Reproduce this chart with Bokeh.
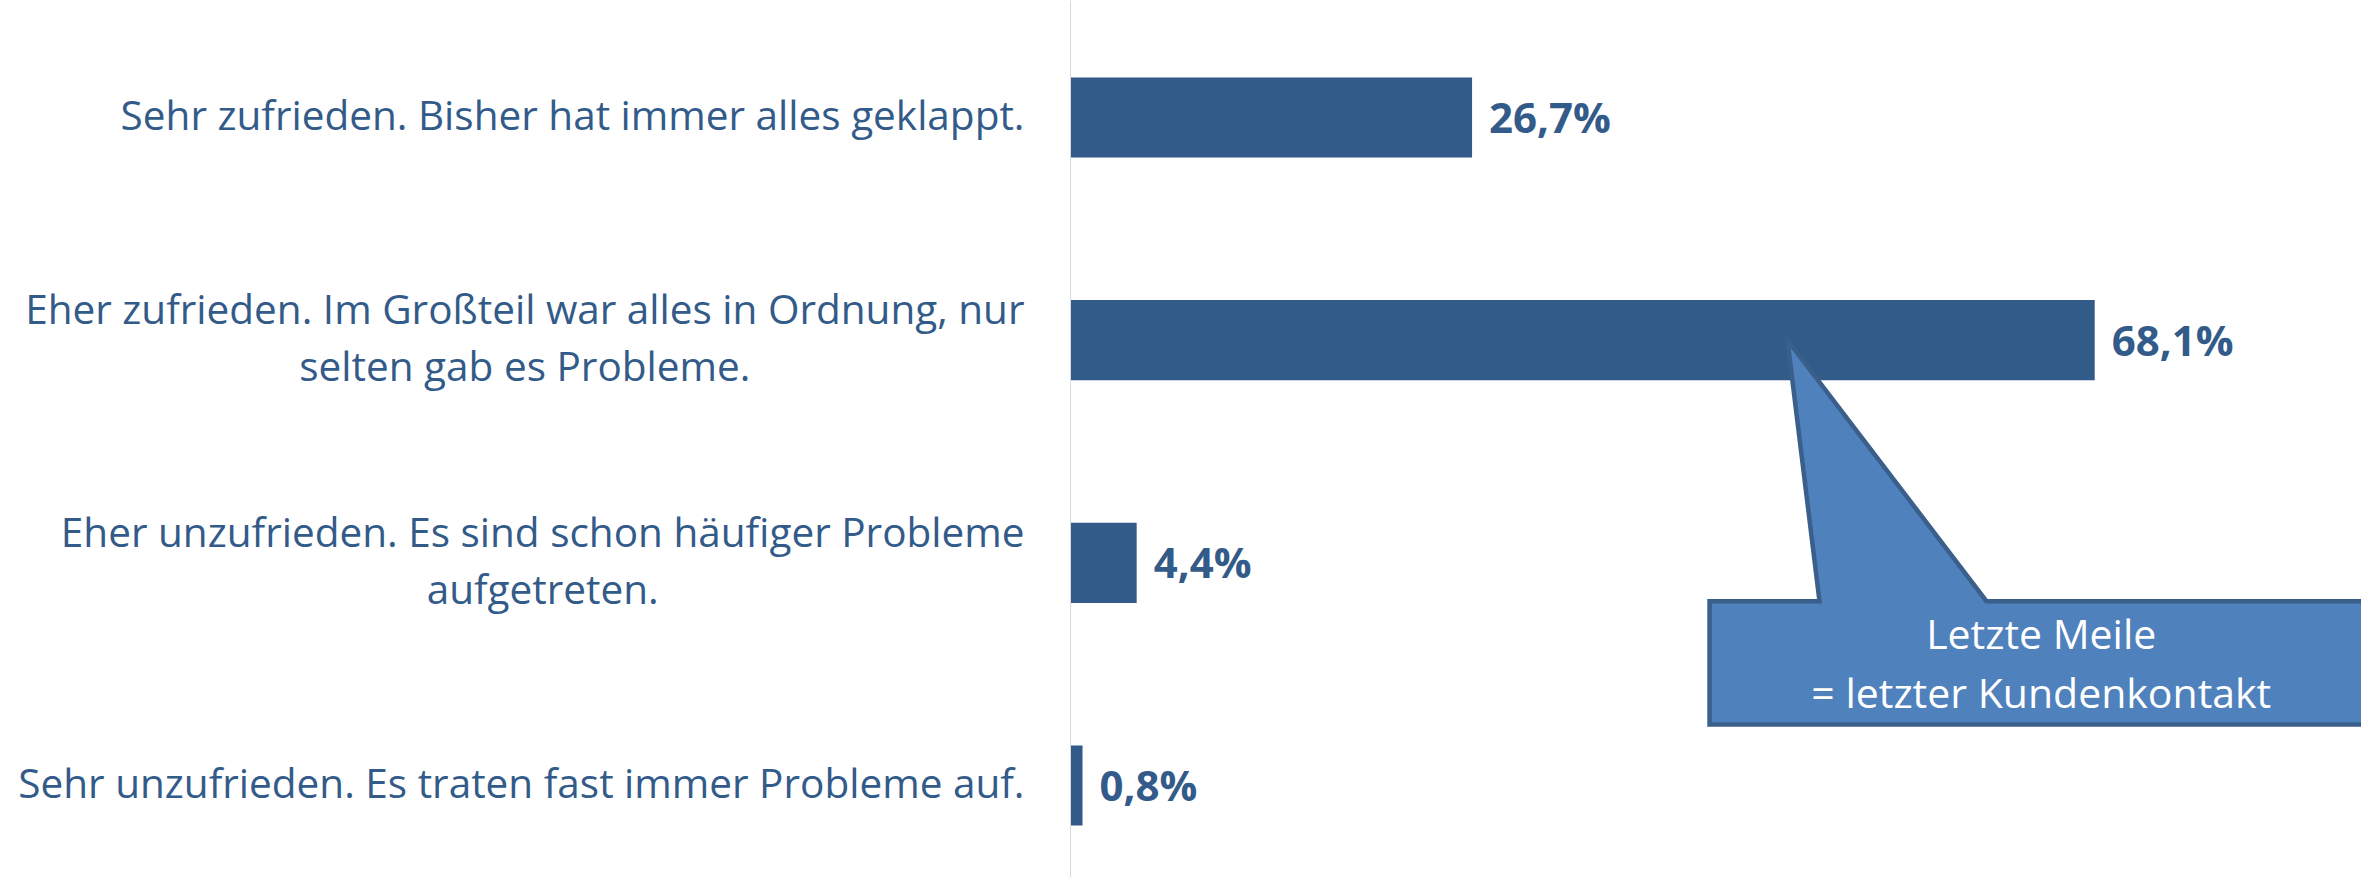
from bokeh.plotting import figure
from bokeh.models import Range1d, Span, ColumnDataSource
from bokeh.core.properties import value
from bokeh.embed import file_html
from bokeh.resources import INLINE

# ---- data ----
categories = [
    "Sehr zufrieden. Bisher hat immer alles geklappt.",
    "Eher zufrieden. Im Großteil war alles in Ordnung, nur\nselten gab es Probleme.",
    "Eher unzufrieden. Es sind schon häufiger Probleme\naufgetreten.",
    "Sehr unzufrieden. Es traten fast immer Probleme auf.",
]
values = [26.7, 68.1, 4.4, 0.8]
value_labels = ["26,7%", "68,1%", "4,4%", "0,8%"]
callout_text = "Letzte Meile\n= letzter Kundenkontakt"

BAR = "#335b89"
TEXT = "#335b89"
FONT = "Open Sans"

W, H = 2361, 877
px_per_unit_x = 15.04
px_per_cat = 222.67
x0_px = 1070  # canvas x of value 0
y0_px = 117   # canvas y of first category centre

x_range = Range1d(-x0_px / px_per_unit_x, (W - x0_px) / px_per_unit_x)
y_range = Range1d((H - y0_px) / px_per_cat, -y0_px / px_per_cat)

p = figure(width=W, height=H, x_range=x_range, y_range=y_range,
           output_backend="svg", toolbar_location=None,
           min_border=0, outline_line_color=None)
p.axis.visible = False
p.grid.visible = False
p.background_fill_color = "white"
p.border_fill_color = "white"

idx = list(range(len(categories)))
src = ColumnDataSource(dict(y=idx, v=values, cat=categories, lab=value_labels))

p.add_layout(Span(location=0, dimension="height", line_color="#d9d9d9", line_width=1))

p.hbar(y="y", left=0, right="v", height=0.36, source=src,
       fill_color=BAR, line_color=None)

p.text(x="v", y="y", text="lab", source=src, x_offset=17, y_offset=-1,
       text_align="left", text_baseline="middle",
       text_font=value(FONT), text_font_style="bold",
       text_font_size="42px", text_color=TEXT)

p.text(x=0, y="y", text="cat", source=src, x_offset=-46, y_offset=-3,
       text_align="center", anchor="center_right", text_baseline="middle",
       text_font=value(FONT), text_font_size="40.5px", text_color=TEXT,
       text_line_height=1.04)

# ---- callout annotation (data units) ----
tip_x, tip_y = 47.67, 1.0
base_l, base_r = 49.8, 60.9
box_l, box_r = 42.49, 86.6
box_t, box_b = 2.172, 2.726
cx = [box_l, base_l, tip_x, base_r, box_r, box_r, box_l]
cy = [box_t, box_t, tip_y, box_t, box_t, box_b, box_b]
p.patch(cx, cy, fill_color="#4f81bd", line_color="#3a5f8b", line_width=4.5,
        line_join="miter")
p.text(x=[(box_l + box_r) / 2], y=[(box_t + box_b) / 2], text=[callout_text],
       text_align="center", text_baseline="middle",
       text_font=value(FONT), text_font_size="41px", text_color="white",
       text_line_height=1.06)

open("out.html", "w").write(file_html(p, INLINE))
